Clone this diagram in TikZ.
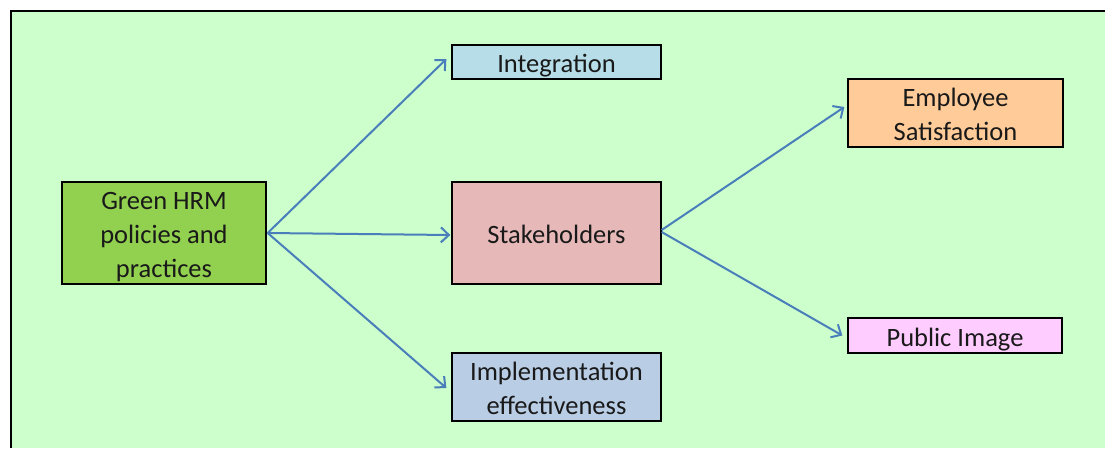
\documentclass[tikz,border=0pt]{standalone}
\usepackage{fontspec}
\setmainfont{Carlito}
\usetikzlibrary{arrows.meta}
\definecolor{bggreen}{HTML}{CCFFCC}
\definecolor{hrmgreen}{HTML}{92D050}
\definecolor{intblue}{HTML}{B7DEE8}
\definecolor{stkpink}{HTML}{E6B9B8}
\definecolor{impblue}{HTML}{B9CDE5}
\definecolor{emppeach}{HTML}{FFCC99}
\definecolor{pubpink}{HTML}{FFCCFF}
\definecolor{arrowblue}{HTML}{4A7EBB}
\newcommand\mystrut{\rule[-6.5pt]{0pt}{34pt}}
\tikzset{
  box/.style={draw=black, line width=1.3pt, align=center, inner sep=0pt,
    font=\fontsize{26.5pt}{34pt}\selectfont, text=black!90},
  link/.style={draw=arrowblue, line width=2pt,
    -{Straight Barb[length=8pt,width=15pt,line width=2pt]}}
}
\begin{document}
\begin{tikzpicture}[x=1pt,y=-1pt]
\useasboundingbox (0,0) rectangle (1105,448);
\fill[bggreen] (11,11) rectangle (1105,448);
\draw[line width=2pt] (11,448) -- (11,11) -- (1105,11);

\node[box, fill=hrmgreen, minimum width=204pt, minimum height=102pt] (hrm) at (164,233) {\mystrut Green HRM\\policies and\\practices\mystrut};
\node[box, fill=intblue, minimum width=209pt, minimum height=34pt] (int) at (556.5,62) {\mystrut Integration};
\node[box, fill=stkpink, minimum width=209pt, minimum height=102pt] (stk) at (556.5,233) {\mystrut Stakeholders};
\node[box, fill=impblue, minimum width=209pt, minimum height=68pt] (imp) at (556.5,387) {\mystrut Implementation\\effectiveness\mystrut};
\node[box, fill=emppeach, minimum width=215pt, minimum height=68pt] (emp) at (955.5,113) {\mystrut Employee\\Satisfaction\mystrut};
\node[box, fill=pubpink, minimum width=214pt, minimum height=35pt] (pub) at (955,335.5) {\mystrut Public Image};

\draw[link] ([xshift=1pt]hrm.east) -- ([xshift=-5pt,yshift=3pt]int.west);
\draw[link] ([xshift=1pt]hrm.east) -- ([xshift=-1pt,yshift=-2pt]stk.west);
\draw[link] ([xshift=1pt]hrm.east) -- ([xshift=-5pt,yshift=-1pt]imp.west);
\draw[link] ([yshift=3pt]stk.east) -- ([xshift=-3pt,yshift=6pt]emp.west);
\draw[link] ([yshift=1pt]stk.east) -- ([xshift=-5pt]pub.west);
\end{tikzpicture}
\end{document}
